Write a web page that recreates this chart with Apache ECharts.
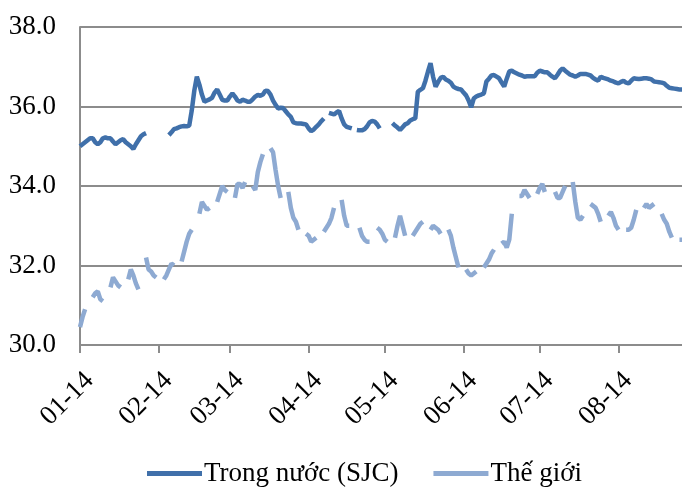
<!DOCTYPE html>
<html>
<head>
<meta charset="utf-8">
<script src="https://cdn.jsdelivr.net/npm/echarts@6/dist/echarts.min.js"></script>
<style>
  html, body { margin: 0; padding: 0; background: #fff; }
  #chart { width: 682px; height: 487px; }
</style>
</head>
<body>
<div id="chart"></div>
<script>
// daily points from 2014-01-01, one row = one week (Wed..Tue)
const startDate = '2014-01-01';

const sjc = [
  35.0, 35.05, 35.1, 35.15, 35.2, 35.2, 35.1,
  35.05, 35.1, 35.2, 35.22, 35.2, 35.2, 35.12,
  35.05, 35.1, 35.15, 35.18, 35.1, 35.05, 35.0,
  34.93, 35.05, 35.15, 35.25, 35.3, 35.33, null,
  null, null, null, null, null, null, null,
  35.28, 35.35, 35.43, 35.45, 35.48, 35.5, 35.51,
  35.5, 35.52, 35.9, 36.4, 36.75, 36.55, 36.3,
  36.12, 36.15, 36.18, 36.22, 36.35, 36.43, 36.3,
  36.17, 36.15, 36.15, 36.25, 36.33, 36.25, 36.15,
  36.12, 36.17, 36.15, 36.12, 36.12, 36.18, 36.25,
  36.29, 36.27, 36.3, 36.4, 36.39, 36.3, 36.15,
  36.04, 35.95, 35.97, 35.96, 35.88, 35.8, 35.74,
  35.6, 35.58, 35.57, 35.57, 35.56, 35.55, 35.45,
  35.38, 35.42, 35.49, 35.55, 35.63, 35.7, null,
  35.84, 35.82, 35.8, 35.85, 35.89, 35.7, 35.55,
  35.49, 35.47, 35.45, null, 35.41, 35.4, 35.4,
  35.43, 35.5, 35.6, 35.64, 35.62, 35.55, 35.45,
  null, null, null, null, 35.58, 35.52, 35.47,
  35.41, 35.48, 35.55, 35.58, 35.65, 35.68, 35.7,
  36.37, 36.42, 36.46, 36.65, 36.88, 37.09, 36.75,
  36.5, 36.62, 36.72, 36.75, 36.68, 36.65, 36.6,
  36.5, 36.46, 36.44, 36.43, 36.35, 36.28, 36.15,
  35.98, 36.2, 36.25, 36.28, 36.3, 36.33, 36.63,
  36.7, 36.78, 36.79, 36.75, 36.71, 36.6, 36.5,
  36.7, 36.88, 36.9, 36.86, 36.83, 36.8, 36.78,
  36.75, 36.76, 36.76, 36.76, 36.76, 36.85, 36.9,
  36.88, 36.86, 36.86, 36.8, 36.75, 36.71, 36.8,
  36.9, 36.96, 36.9, 36.85, 36.8, 36.78, 36.75,
  36.78, 36.82, 36.82, 36.82, 36.8, 36.78, 36.72,
  36.68, 36.65, 36.75, 36.72, 36.7, 36.68, 36.65,
  36.63, 36.6, 36.58, 36.62, 36.65, 36.6, 36.58,
  36.65, 36.71, 36.7, 36.69, 36.7, 36.71, 36.71,
  36.7, 36.68, 36.63, 36.62, 36.61, 36.6, 36.58,
  36.52, 36.47, 36.46, 36.45, 36.44, 36.43, 36.43
];

const world = [
  30.45, 30.7, 30.9, null, null, 31.2, 31.3,
  31.35, 31.15, 31.1, null, null, 31.45, 31.7,
  31.6, 31.5, 31.45, null, null, 31.65, 31.9,
  31.75, 31.55, 31.4, null, null, 32.2, 31.9,
  31.85, 31.75, 31.7, null, null, 31.65, 31.75,
  31.9, 32.05, 32.0, null, null, 32.1, 32.35,
  32.6, 32.8, 32.9, null, null, 33.3, 33.6,
  33.5, 33.4, 33.45, null, null, 33.6, 33.8,
  34.0, 33.9, 33.85, null, null, 33.7, 34.05,
  34.05, 33.95, 34.1, null, null, 34.0, 33.9,
  34.35, 34.6, 34.8, null, null, 34.95, 34.85,
  34.4, 34.0, 33.7, null, null, 33.85, 33.45,
  33.2, 33.1, 32.9, null, null, 32.8, 32.75,
  32.6, 32.65, 32.7, null, null, 32.85, 32.95,
  33.05, 33.2, 33.45, null, null, 33.65, 33.25,
  33.0, 33.0, null, null, null, 32.95, 32.75,
  32.65, 32.6, 32.6, null, null, 32.95, 32.9,
  32.8, 32.65, 32.6, null, null, 32.7, 33.0,
  33.25, 33.0, 32.75, null, null, 32.75, 32.85,
  32.95, 33.05, 33.1, null, null, 32.9, 33.0,
  32.95, 32.9, 32.8, null, null, 32.9, 32.75,
  32.45, 32.2, 31.95, null, null, 31.9, 31.8,
  31.75, 31.8, 31.85, null, null, 31.95, 32.05,
  32.15, 32.3, 32.4, null, null, 32.55, 32.6,
  32.45, 32.65, 33.3, null, null, 33.75, 33.75,
  33.9, 33.8, 33.7, null, null, 33.8, 33.95,
  34.05, 33.85, null, null, null, 33.85, 33.7,
  33.7, 33.85, 34.0, null, null, 34.1, 33.6,
  33.2, 33.15, 33.25, null, null, 33.55, 33.5,
  33.45, 33.3, 33.1, null, null, 33.25, 33.35,
  33.2, 33.0, 32.9, null, null, 32.9, 32.9,
  32.95, 33.15, 33.4, null, null, 33.45, 33.55,
  33.45, 33.5, 33.55, null, null, 33.3, 33.15,
  33.05, 32.85, 32.7, null, null, 32.65, 32.65
];

const seriesNames = ['Trong nước (SJC)', 'Thế giới'];
const yTicks = { min: 30, max: 38, step: 2 };

// one category per day
const days = [];
const d0 = new Date(startDate + 'T00:00:00Z');
for (let i = 0; i < sjc.length; i++) {
  const d = new Date(d0.getTime() + i * 86400000);
  days.push(d.toISOString().slice(0, 10));
}
const isMonthStart = (idx, val) => val.slice(8, 10) === '01';

const font = '"Liberation Serif", "Times New Roman", serif';
const gridColor = '#8c8c8c';

const chart = echarts.init(document.getElementById('chart'));
chart.setOption({
  animation: false,
  backgroundColor: '#fff',
  textStyle: { fontFamily: font },
  grid: { left: 80, right: 0, top: 27, bottom: 142 },
  legend: {
    left: 142,
    top: 455,
    itemGap: 35,
    itemWidth: 55,
    itemHeight: 5,
    icon: 'rect',
    textStyle: { fontFamily: font, fontSize: 27, color: '#000', padding: [0, 0, 0, -3] },
    data: seriesNames
  },
  xAxis: {
    type: 'category',
    boundaryGap: false,
    data: days,
    axisLine: { lineStyle: { color: gridColor, width: 2 } },
    axisTick: { interval: isMonthStart, length: 8, lineStyle: { color: gridColor, width: 2 } },
    axisLabel: {
      interval: isMonthStart,
      rotate: 45,
      margin: 22,
      verticalAlign: 'top',
      fontFamily: font,
      fontSize: 27,
      color: '#000',
      formatter: v => v.slice(5, 7) + '-' + v.slice(2, 4)
    },
    splitLine: { show: false }
  },
  yAxis: {
    type: 'value',
    min: yTicks.min,
    max: yTicks.max,
    interval: yTicks.step,
    axisLine: { show: true, lineStyle: { color: gridColor, width: 2 } },
    axisTick: { show: false },
    axisLabel: {
      margin: 24,
      fontFamily: font,
      fontSize: 27,
      color: '#000',
      formatter: v => v.toFixed(1)
    },
    splitLine: { lineStyle: { color: gridColor, width: 2 } }
  },
  series: [
    {
      name: seriesNames[0],
      type: 'line',
      data: sjc,
      showSymbol: false,
      connectNulls: false,
      lineStyle: { color: '#4070aa', width: 4.5 },
      itemStyle: { color: '#4070aa' }
    },
    {
      name: seriesNames[1],
      type: 'line',
      data: world,
      showSymbol: false,
      connectNulls: false,
      lineStyle: { color: '#8eaad2', width: 4.5 },
      itemStyle: { color: '#8eaad2' }
    }
  ]
});
</script>
</body>
</html>
